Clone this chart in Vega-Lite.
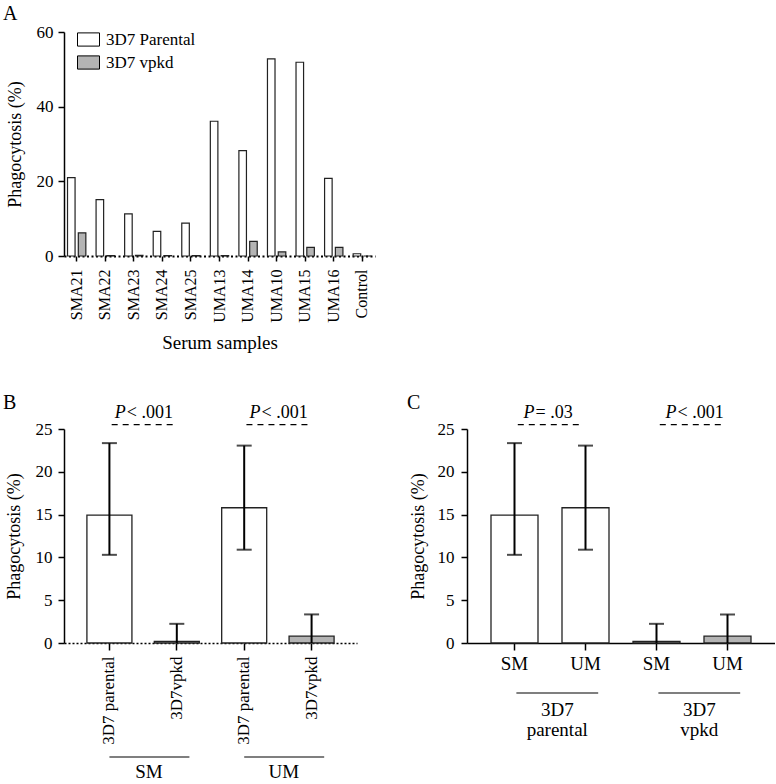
{
  "$schema": "https://vega.github.io/schema/vega-lite/v6.json",
  "background": "white",
  "padding": {"left": 3, "top": 4, "right": 0, "bottom": 0},
  "bounds": "flush",
  "spacing": 173,
  "resolve": {"scale": {"fill": "independent"}, "legend": {"fill": "independent"}},
  "config": {
    "font": "Liberation Serif, DejaVu Serif, serif",
    "view": {"stroke": null},
    "axis": {"grid": false, "labelFont": "Liberation Serif, DejaVu Serif, serif", "titleFont": "Liberation Serif, DejaVu Serif, serif", "titleFontWeight": "normal", "labelColor": "black", "titleColor": "black", "domainColor": "black", "tickColor": "black", "labelFontSize": 17, "titleFontSize": 18, "tickWidth": 1.5, "domainWidth": 1.5},
    "legend": {"labelFont": "Liberation Serif, DejaVu Serif, serif"},
    "title": {"font": "Liberation Serif, DejaVu Serif, serif", "fontWeight": "normal", "fontSize": 20, "anchor": "start", "frame": "group", "color": "black", "baseline": "alphabetic"},
    "text": {"font": "Liberation Serif, DejaVu Serif, serif", "color": "black"}
  },
  "datasets": {
    "phago": [
      {"sample": "SMA21", "strain": "3D7 Parental", "value": 21.0},
      {"sample": "SMA21", "strain": "3D7 vpkd", "value": 6.2},
      {"sample": "SMA22", "strain": "3D7 Parental", "value": 15.1},
      {"sample": "SMA22", "strain": "3D7 vpkd", "value": 0.1},
      {"sample": "SMA23", "strain": "3D7 Parental", "value": 11.3},
      {"sample": "SMA23", "strain": "3D7 vpkd", "value": 0.2},
      {"sample": "SMA24", "strain": "3D7 Parental", "value": 6.6},
      {"sample": "SMA24", "strain": "3D7 vpkd", "value": 0.1},
      {"sample": "SMA25", "strain": "3D7 Parental", "value": 8.8},
      {"sample": "SMA25", "strain": "3D7 vpkd", "value": 0.1},
      {"sample": "UMA13", "strain": "3D7 Parental", "value": 36.1},
      {"sample": "UMA13", "strain": "3D7 vpkd", "value": 0.1},
      {"sample": "UMA14", "strain": "3D7 Parental", "value": 28.2},
      {"sample": "UMA14", "strain": "3D7 vpkd", "value": 3.9},
      {"sample": "UMA10", "strain": "3D7 Parental", "value": 52.8},
      {"sample": "UMA10", "strain": "3D7 vpkd", "value": 1.1},
      {"sample": "UMA15", "strain": "3D7 Parental", "value": 51.9},
      {"sample": "UMA15", "strain": "3D7 vpkd", "value": 2.3},
      {"sample": "UMA16", "strain": "3D7 Parental", "value": 20.8},
      {"sample": "UMA16", "strain": "3D7 vpkd", "value": 2.3},
      {"sample": "Control", "strain": "3D7 Parental", "value": 0.6},
      {"sample": "Control", "strain": "3D7 vpkd", "value": 0.0}
    ],
    "barsB": [
      {"key": "SM 3D7 parental", "strain": "3D7 Parental", "mean": 14.95, "lo": 10.3, "hi": 23.35},
      {"key": "SM 3D7vpkd", "strain": "3D7 vpkd", "mean": 0.2, "lo": 0, "hi": 2.24},
      {"key": "UM 3D7 parental", "strain": "3D7 Parental", "mean": 15.8, "lo": 10.9, "hi": 23.06},
      {"key": "UM 3D7vpkd", "strain": "3D7 vpkd", "mean": 0.8, "lo": 0, "hi": 3.34}
    ],
    "annB": [
      {"key": "SM 3D7 parental", "key2": "SM 3D7vpkd", "ptext": "< .001"},
      {"key": "UM 3D7 parental", "key2": "UM 3D7vpkd", "ptext": "< .001"}
    ],
    "grpB": [
      {"key": "SM 3D7 parental", "key2": "SM 3D7vpkd", "label": "SM"},
      {"key": "UM 3D7 parental", "key2": "UM 3D7vpkd", "label": "UM"}
    ],
    "barsC": [
      {"key": "parental SM", "strain": "3D7 Parental", "mean": 14.95, "lo": 10.3, "hi": 23.35},
      {"key": "parental UM", "strain": "3D7 Parental", "mean": 15.8, "lo": 10.9, "hi": 23.06},
      {"key": "vpkd SM", "strain": "3D7 vpkd", "mean": 0.2, "lo": 0, "hi": 2.24},
      {"key": "vpkd UM", "strain": "3D7 vpkd", "mean": 0.8, "lo": 0, "hi": 3.34}
    ],
    "annC": [
      {"key": "parental SM", "key2": "parental UM", "ptext": "= .03"},
      {"key": "vpkd SM", "key2": "vpkd UM", "ptext": "< .001"}
    ],
    "grpC": [
      {"key": "parental SM", "key2": "parental UM", "label": "3D7\nparental"},
      {"key": "vpkd SM", "key2": "vpkd UM", "label": "3D7\nvpkd"}
    ]
  },
  "vconcat": [
    {
      "width": 311,
      "height": 224,
      "title": {"text": "A", "dx": -61, "offset": -1},
      "data": {"name": "phago"},
      "mark": {"type": "bar", "stroke": "#222222", "strokeWidth": 1.2},
      "encoding": {
        "x": {"field": "sample", "type": "nominal", "sort": null,
              "scale": {"paddingInner": 0.3, "paddingOuter": 0.094},
              "axis": {"labelAngle": -90, "labelFontSize": 16, "tickSize": 5, "labelPadding": 8, "domainDash": [2, 2.5], "domainWidth": 2, "title": "Serum samples", "titleFontSize": 19, "titlePadding": 11}},
        "xOffset": {"field": "strain", "type": "nominal", "scale": {"paddingInner": 0.3, "paddingOuter": 0.077}},
        "y": {"field": "value", "type": "quantitative", "scale": {"domain": [0, 60], "nice": false},
              "axis": {"values": [0, 20, 40, 60], "tickSize": 6, "labelPadding": 5, "title": "Phagocytosis (%)", "titlePadding": 12}},
        "fill": {"field": "strain", "type": "nominal",
                 "scale": {"domain": ["3D7 Parental", "3D7 vpkd"], "range": ["white", "#b4b4b4"]},
                 "legend": {"title": null, "orient": "none", "legendX": 13, "legendY": -4, "symbolType": "M-1,-0.6L1,-0.6L1,0.6L-1,0.6Z", "symbolSize": 484, "symbolStrokeColor": "black", "symbolStrokeWidth": 1, "symbolOpacity": 1, "labelFontSize": 17, "labelColor": "black", "rowPadding": 2, "labelOffset": 6}}
      }
    },
    {
      "bounds": "flush",
      "spacing": 110,
      "resolve": {"scale": {"fill": "independent"}, "legend": {"fill": "independent"}},
      "hconcat": [
        {
          "width": 293,
          "height": 214,
          "title": {"text": "B", "dx": -61, "offset": -9},
          "layer": [
            {
              "data": {"name": "barsB"},
              "mark": {"type": "bar", "stroke": "#222222", "strokeWidth": 1.3},
              "encoding": {
                "x": {"field": "key", "type": "nominal",
                      "scale": {"domain": ["SM 3D7 parental", "SM 3D7vpkd", "UM 3D7 parental", "UM 3D7vpkd"], "paddingInner": 0.332, "paddingOuter": 0.34},
                      "axis": {"title": null, "labelAngle": -90, "labelExpr": "slice(datum.label, 3)", "tickSize": 7, "labelPadding": 6, "labelFontSize": 17, "domainDash": [2, 2], "domainWidth": 1.5}},
                "y": {"field": "mean", "type": "quantitative", "scale": {"domain": [0, 25], "nice": false},
                      "axis": {"title": "Phagocytosis (%)", "values": [0, 5, 10, 15, 20, 25], "tickSize": 6, "labelPadding": 6, "titlePadding": 12}},
                "fill": {"field": "strain", "type": "nominal", "scale": {"domain": ["3D7 Parental", "3D7 vpkd"], "range": ["white", "#b4b4b4"]}, "legend": null}
              }
            },
            {
              "data": {"name": "barsB"},
              "mark": {"type": "rule", "color": "black", "strokeWidth": 2},
              "encoding": {
                "x": {"field": "key", "type": "nominal", "scale": {"domain": ["SM 3D7 parental", "SM 3D7vpkd", "UM 3D7 parental", "UM 3D7vpkd"], "paddingInner": 0.332, "paddingOuter": 0.34}},
                "y": {"field": "lo", "type": "quantitative", "scale": {"domain": [0, 25], "nice": false}},
                "y2": {"field": "hi"}
              }
            },
            {
              "data": {"name": "barsB"},
              "mark": {"type": "tick", "color": "black", "size": 15, "thickness": 2},
              "encoding": {
                "x": {"field": "key", "type": "nominal", "scale": {"domain": ["SM 3D7 parental", "SM 3D7vpkd", "UM 3D7 parental", "UM 3D7vpkd"], "paddingInner": 0.332, "paddingOuter": 0.34}},
                "y": {"field": "hi", "type": "quantitative", "scale": {"domain": [0, 25], "nice": false}}
              }
            },
            {
              "data": {"name": "barsB"},
              "transform": [{"filter": "datum.lo > 0"}],
              "mark": {"type": "tick", "color": "black", "size": 15, "thickness": 2},
              "encoding": {
                "x": {"field": "key", "type": "nominal", "scale": {"domain": ["SM 3D7 parental", "SM 3D7vpkd", "UM 3D7 parental", "UM 3D7vpkd"], "paddingInner": 0.332, "paddingOuter": 0.34}},
                "y": {"field": "lo", "type": "quantitative", "scale": {"domain": [0, 25], "nice": false}}
              }
            },
            {
              "data": {"name": "annB"},
              "mark": {"type": "rule", "color": "black", "strokeWidth": 1.3, "strokeDash": [6, 5]},
              "encoding": {
                "x": {"field": "key", "type": "nominal", "bandPosition": 0.55, "scale": {"domain": ["SM 3D7 parental", "SM 3D7vpkd", "UM 3D7 parental", "UM 3D7vpkd"], "paddingInner": 0.332, "paddingOuter": 0.34}},
                "x2": {"field": "key2", "bandPosition": 0.45},
                "y": {"datum": 25.5, "type": "quantitative", "scale": {"domain": [0, 25], "nice": false}}
              }
            },
            {
              "data": {"name": "annB"},
              "mark": {"type": "text", "text": "P", "fontStyle": "italic", "align": "right", "baseline": "alphabetic", "dx": -17, "fontSize": 18},
              "encoding": {
                "x": {"field": "key", "type": "nominal", "bandPosition": 1.24, "scale": {"domain": ["SM 3D7 parental", "SM 3D7vpkd", "UM 3D7 parental", "UM 3D7vpkd"], "paddingInner": 0.332, "paddingOuter": 0.34}},
                "y": {"datum": 26.3, "type": "quantitative", "scale": {"domain": [0, 25], "nice": false}}
              }
            },
            {
              "data": {"name": "annB"},
              "mark": {"type": "text", "align": "left", "baseline": "alphabetic", "dx": -16, "fontSize": 18},
              "encoding": {
                "x": {"field": "key", "type": "nominal", "bandPosition": 1.24, "scale": {"domain": ["SM 3D7 parental", "SM 3D7vpkd", "UM 3D7 parental", "UM 3D7vpkd"], "paddingInner": 0.332, "paddingOuter": 0.34}},
                "y": {"datum": 26.3, "type": "quantitative", "scale": {"domain": [0, 25], "nice": false}},
                "text": {"field": "ptext"}
              }
            },
            {
              "data": {"name": "grpB"},
              "mark": {"type": "rule", "color": "black", "strokeWidth": 1.2},
              "encoding": {
                "x": {"field": "key", "type": "nominal", "bandPosition": 0.5, "scale": {"domain": ["SM 3D7 parental", "SM 3D7vpkd", "UM 3D7 parental", "UM 3D7vpkd"], "paddingInner": 0.332, "paddingOuter": 0.34}},
                "x2": {"field": "key2", "bandPosition": 0.78},
                "y": {"datum": -13.32, "type": "quantitative", "scale": {"domain": [0, 25], "nice": false}}
              }
            },
            {
              "data": {"name": "grpB"},
              "mark": {"type": "text", "align": "center", "baseline": "alphabetic", "fontSize": 19},
              "encoding": {
                "x": {"field": "key", "type": "nominal", "bandPosition": 1.38, "scale": {"domain": ["SM 3D7 parental", "SM 3D7vpkd", "UM 3D7 parental", "UM 3D7vpkd"], "paddingInner": 0.332, "paddingOuter": 0.34}},
                "y": {"datum": -15.77, "type": "quantitative", "scale": {"domain": [0, 25], "nice": false}},
                "text": {"field": "label"}
              }
            }
          ]
        },
        {
          "width": 308,
          "height": 214,
          "title": {"text": "C", "dx": -60, "offset": -9},
          "layer": [
            {
              "data": {"name": "barsC"},
              "mark": {"type": "bar", "stroke": "#222222", "strokeWidth": 1.3},
              "encoding": {
                "x": {"field": "key", "type": "nominal",
                      "scale": {"domain": ["parental SM", "parental UM", "vpkd SM", "vpkd UM"], "paddingInner": 0.338, "paddingOuter": 0.338},
                      "axis": {"title": null, "labelAngle": 0, "labelExpr": "slice(datum.label, -2)", "tickSize": 7, "labelPadding": 4, "labelFontSize": 19}},
                "y": {"field": "mean", "type": "quantitative", "scale": {"domain": [0, 25], "nice": false},
                      "axis": {"title": "Phagocytosis (%)", "values": [0, 5, 10, 15, 20, 25], "tickSize": 6, "labelPadding": 7, "titlePadding": 10}},
                "fill": {"field": "strain", "type": "nominal", "scale": {"domain": ["3D7 Parental", "3D7 vpkd"], "range": ["white", "#b4b4b4"]}, "legend": null}
              }
            },
            {
              "data": {"name": "barsC"},
              "mark": {"type": "rule", "color": "black", "strokeWidth": 2},
              "encoding": {
                "x": {"field": "key", "type": "nominal", "scale": {"domain": ["parental SM", "parental UM", "vpkd SM", "vpkd UM"], "paddingInner": 0.338, "paddingOuter": 0.338}},
                "y": {"field": "lo", "type": "quantitative", "scale": {"domain": [0, 25], "nice": false}},
                "y2": {"field": "hi"}
              }
            },
            {
              "data": {"name": "barsC"},
              "mark": {"type": "tick", "color": "black", "size": 15, "thickness": 2},
              "encoding": {
                "x": {"field": "key", "type": "nominal", "scale": {"domain": ["parental SM", "parental UM", "vpkd SM", "vpkd UM"], "paddingInner": 0.338, "paddingOuter": 0.338}},
                "y": {"field": "hi", "type": "quantitative", "scale": {"domain": [0, 25], "nice": false}}
              }
            },
            {
              "data": {"name": "barsC"},
              "transform": [{"filter": "datum.lo > 0"}],
              "mark": {"type": "tick", "color": "black", "size": 15, "thickness": 2},
              "encoding": {
                "x": {"field": "key", "type": "nominal", "scale": {"domain": ["parental SM", "parental UM", "vpkd SM", "vpkd UM"], "paddingInner": 0.338, "paddingOuter": 0.338}},
                "y": {"field": "lo", "type": "quantitative", "scale": {"domain": [0, 25], "nice": false}}
              }
            },
            {
              "data": {"name": "annC"},
              "mark": {"type": "rule", "color": "black", "strokeWidth": 1.3, "strokeDash": [6, 5]},
              "encoding": {
                "x": {"field": "key", "type": "nominal", "bandPosition": 0.57, "scale": {"domain": ["parental SM", "parental UM", "vpkd SM", "vpkd UM"], "paddingInner": 0.338, "paddingOuter": 0.338}},
                "x2": {"field": "key2", "bandPosition": 0.42},
                "y": {"datum": 25.5, "type": "quantitative", "scale": {"domain": [0, 25], "nice": false}}
              }
            },
            {
              "data": {"name": "annC"},
              "mark": {"type": "text", "text": "P", "fontStyle": "italic", "align": "right", "baseline": "alphabetic", "dx": -15, "fontSize": 18},
              "encoding": {
                "x": {"field": "key", "type": "nominal", "bandPosition": 1.245, "scale": {"domain": ["parental SM", "parental UM", "vpkd SM", "vpkd UM"], "paddingInner": 0.338, "paddingOuter": 0.338}},
                "y": {"datum": 26.3, "type": "quantitative", "scale": {"domain": [0, 25], "nice": false}}
              }
            },
            {
              "data": {"name": "annC"},
              "mark": {"type": "text", "align": "left", "baseline": "alphabetic", "dx": -14, "fontSize": 18},
              "encoding": {
                "x": {"field": "key", "type": "nominal", "bandPosition": 1.245, "scale": {"domain": ["parental SM", "parental UM", "vpkd SM", "vpkd UM"], "paddingInner": 0.338, "paddingOuter": 0.338}},
                "y": {"datum": 26.3, "type": "quantitative", "scale": {"domain": [0, 25], "nice": false}},
                "text": {"field": "ptext"}
              }
            },
            {
              "data": {"name": "grpC"},
              "mark": {"type": "rule", "color": "black", "strokeWidth": 1.2},
              "encoding": {
                "x": {"field": "key", "type": "nominal", "bandPosition": 0.54, "scale": {"domain": ["parental SM", "parental UM", "vpkd SM", "vpkd UM"], "paddingInner": 0.338, "paddingOuter": 0.338}},
                "x2": {"field": "key2", "bandPosition": 0.77},
                "y": {"datum": -5.84, "type": "quantitative", "scale": {"domain": [0, 25], "nice": false}}
              }
            },
            {
              "data": {"name": "grpC"},
              "mark": {"type": "text", "align": "center", "baseline": "alphabetic", "fontSize": 19, "lineBreak": "\n", "lineHeight": 20},
              "encoding": {
                "x": {"field": "key", "type": "nominal", "bandPosition": 1.41, "scale": {"domain": ["parental SM", "parental UM", "vpkd SM", "vpkd UM"], "paddingInner": 0.338, "paddingOuter": 0.338}},
                "y": {"datum": -8.56, "type": "quantitative", "scale": {"domain": [0, 25], "nice": false}},
                "text": {"field": "label"}
              }
            }
          ]
        }
      ]
    }
  ]
}
